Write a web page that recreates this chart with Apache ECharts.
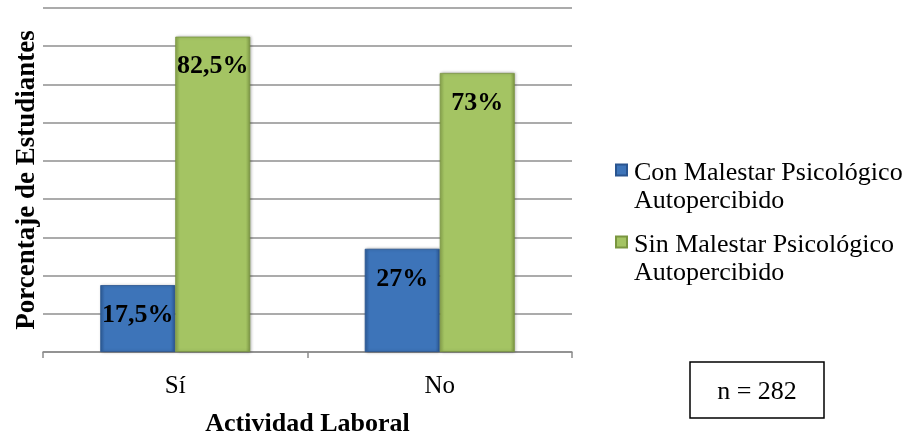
<!DOCTYPE html>
<html>
<head>
<meta charset="utf-8">
<script src="https://cdn.jsdelivr.net/npm/echarts@6/dist/echarts.min.js"></script>
<style>
  html, body { margin: 0; padding: 0; background: #fff; }
  #main { width: 914px; height: 436px; }
</style>
</head>
<body>
<div id="main"></div>
<script>
// datos
var categorias = ['Sí', 'No'];
var conMalestar = [17.5, 27];
var sinMalestar = [82.5, 73];
var nombres = ['Con Malestar Psicológico\nAutopercibido', 'Sin Malestar Psicológico\nAutopercibido'];
var yMax = 90;
var yPaso = 10;

var fuente = '"Liberation Serif", "Times New Roman", serif';

function pct(p) {
    return String(p.value).replace('.', ',') + '%';
}

function bisel(borde1, medio, borde2) {
    return new echarts.graphic.LinearGradient(0, 0, 1, 0, [
        {offset: 0, color: borde1},
        {offset: 0.06, color: medio},
        {offset: 0.94, color: medio},
        {offset: 1, color: borde2}
    ]);
}

var chart = echarts.init(document.getElementById('main'));

var option = {
    backgroundColor: '#fff',
    textStyle: {fontFamily: fuente},
    animation: false,
    grid: {
        left: 43,
        right: 342,
        top: 8,
        bottom: 84,
        containLabel: false,
        outerBoundsMode: 'none'
    },
    legend: {
        orient: 'vertical',
        left: 615,
        top: 125,
        padding: 0,
        itemWidth: 11,
        itemHeight: 11,
        itemGap: -17,
        icon: 'rect',
        data: nombres,
        // línea vacía arriba para que la primera línea quede junto al icono
        formatter: function (name) {
            return '{e| }\n' + name.split('\n').map(function (s) {
                return '{t|' + s + '}';
            }).join('\n');
        },
        textStyle: {
            fontFamily: fuente,
            fontSize: 26,
            color: '#000',
            rich: {
                e: {fontSize: 10, lineHeight: 34, height: 34},
                t: {fontFamily: fuente, fontSize: 26, lineHeight: 28, color: '#000', padding: [0, 0, 0, 2]}
            }
        }
    },
    xAxis: {
        type: 'category',
        data: categorias,
        name: 'Actividad Laboral',
        nameLocation: 'middle',
        nameGap: 59,
        nameTextStyle: {fontFamily: fuente, fontSize: 26, fontWeight: 'bold', color: '#000'},
        axisLine: {lineStyle: {color: '#8c8c8c', width: 1.5}},
        axisTick: {show: true, length: 6, lineStyle: {color: '#8c8c8c', width: 1.5}},
        axisLabel: {fontFamily: fuente, fontSize: 25, color: '#000', margin: 22}
    },
    yAxis: {
        type: 'value',
        min: 0,
        max: yMax,
        interval: yPaso,
        name: 'Porcentaje de Estudiantes',
        nameLocation: 'middle',
        nameGap: 2,
        nameRotate: 90,
        nameTextStyle: {fontFamily: fuente, fontSize: 27, fontWeight: 'bold', color: '#000'},
        axisLine: {show: false},
        axisTick: {show: false},
        axisLabel: {show: false},
        splitLine: {lineStyle: {color: '#8f8f8f', width: 1.5}}
    },
    series: [
        {
            name: nombres[0],
            type: 'bar',
            data: conMalestar,
            barWidth: 75,
            barGap: '0%',
            itemStyle: {
                color: bisel('#2f609f', '#3d74b9', '#2b5894'),
                borderColor: '#2a5590',
                borderWidth: 0.8,
                shadowColor: 'rgba(0,0,0,0.3)',
                shadowBlur: 3,
                shadowOffsetX: 1
            },
            label: {
                show: true,
                position: 'insideTop',
                distance: 17,
                formatter: pct,
                fontFamily: fuente,
                fontSize: 26,
                fontWeight: 'bold',
                color: '#000'
            }
        },
        {
            name: nombres[1],
            type: 'bar',
            data: sinMalestar,
            barWidth: 75,
            itemStyle: {
                color: bisel('#90ae52', '#a4c463', '#7d9846'),
                borderColor: '#7a9640',
                borderWidth: 0.8,
                shadowColor: 'rgba(0,0,0,0.3)',
                shadowBlur: 3,
                shadowOffsetX: 1
            },
            label: {
                show: true,
                position: 'insideTop',
                distance: 17,
                formatter: pct,
                fontFamily: fuente,
                fontSize: 26,
                fontWeight: 'bold',
                color: '#000'
            }
        }
    ],
    graphic: [
        {
            type: 'rect',
            x: 690,
            y: 362,
            shape: {width: 134, height: 56},
            style: {fill: '#fff', stroke: '#000', lineWidth: 1.5}
        },
        {
            type: 'text',
            x: 757,
            y: 392,
            style: {
                text: 'n = 282',
                fontFamily: fuente,
                fontSize: 26,
                fill: '#000',
                align: 'center',
                verticalAlign: 'middle'
            }
        }
    ]
};

chart.setOption(option);
</script>
</body>
</html>
